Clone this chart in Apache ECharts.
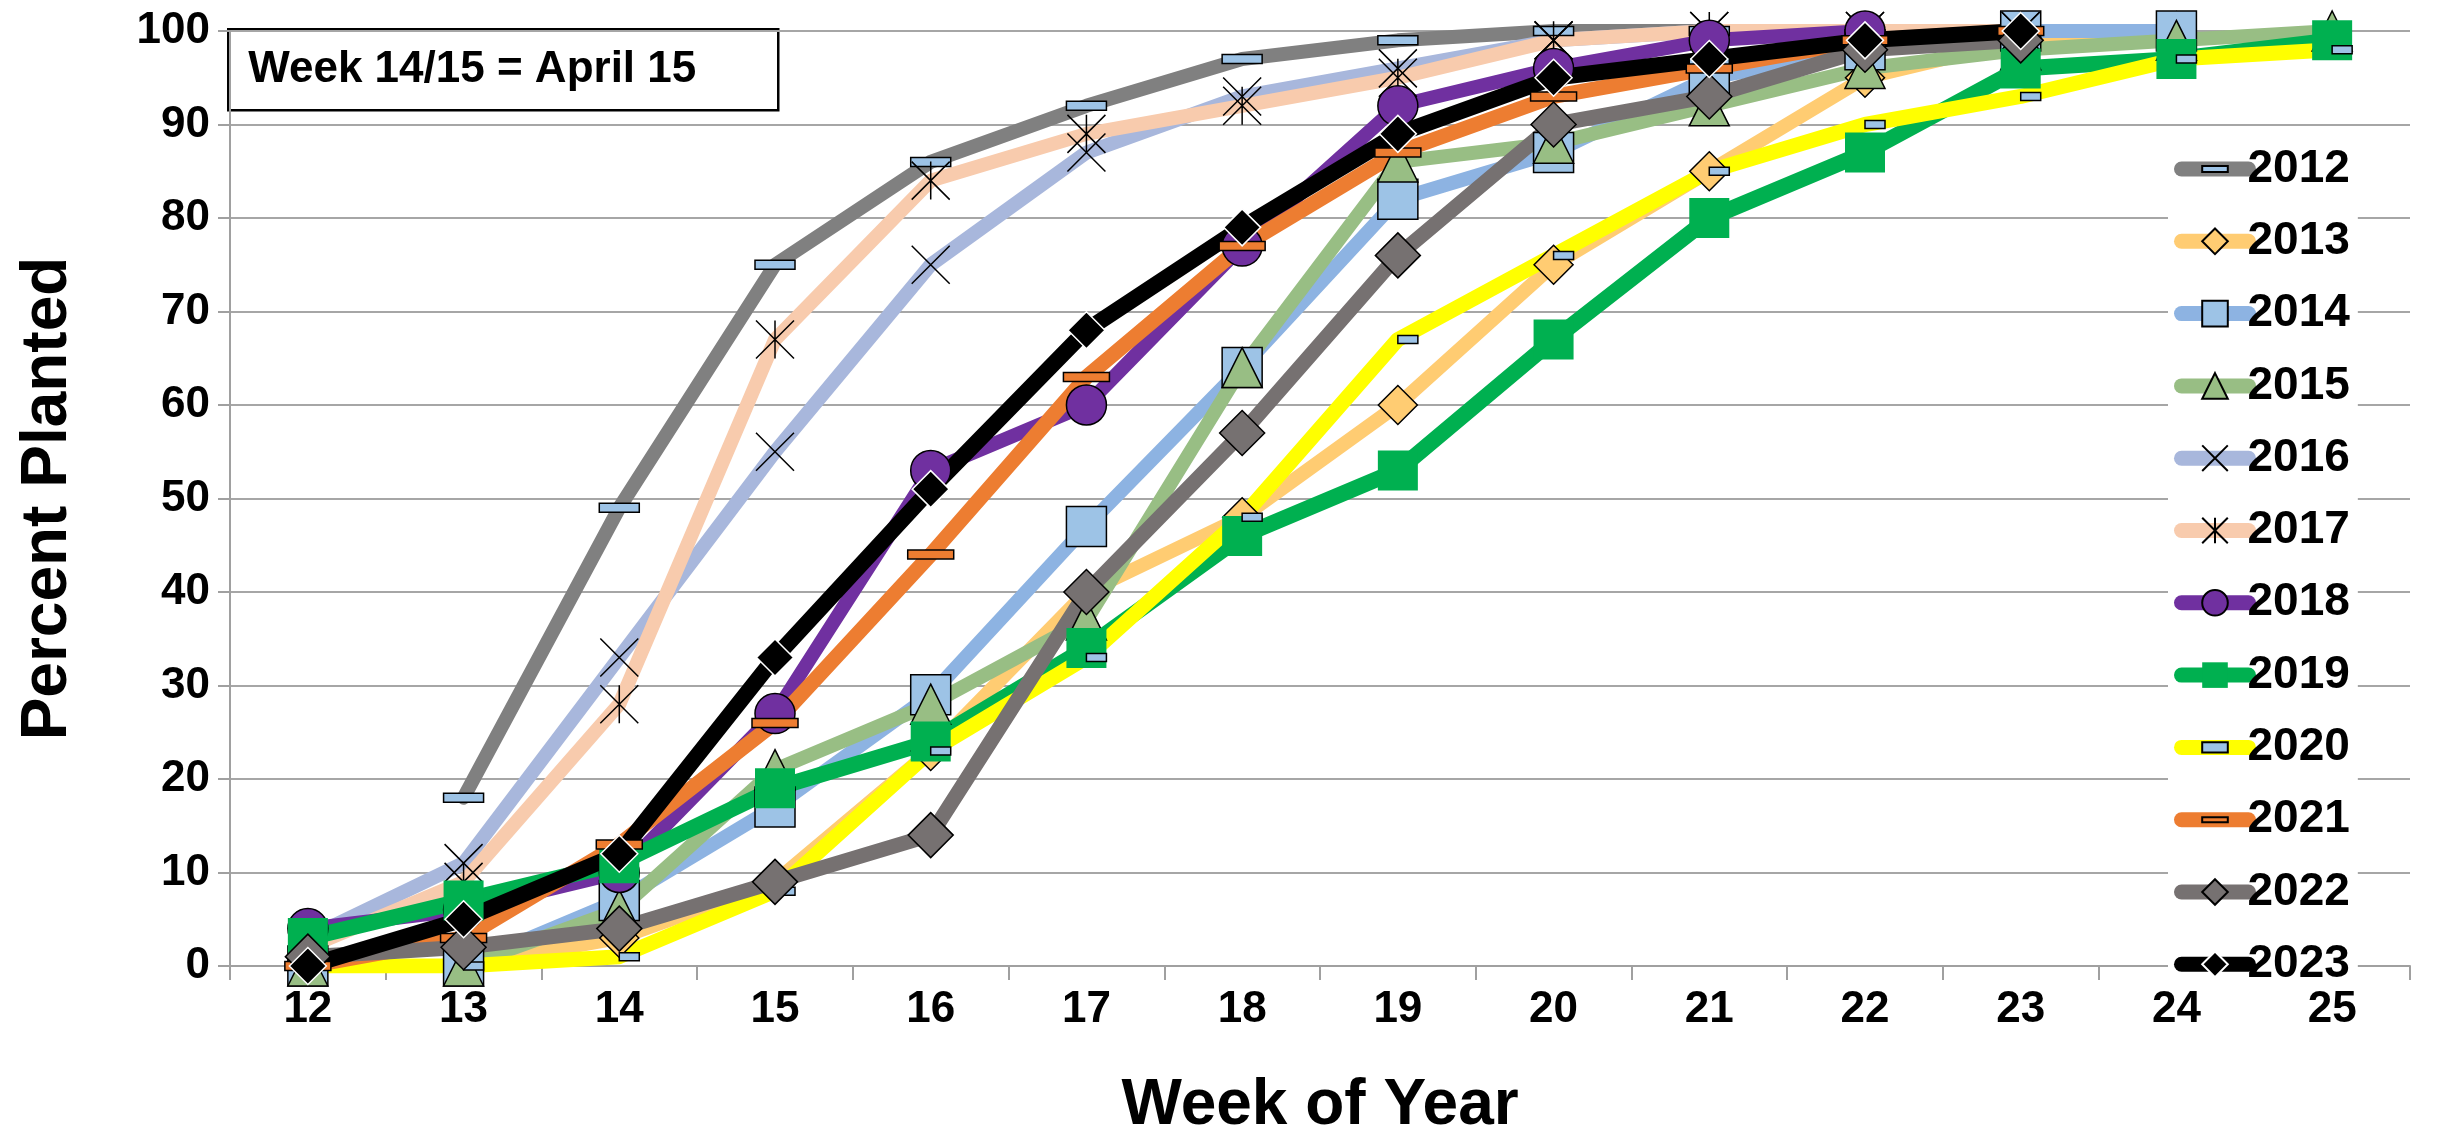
<!DOCTYPE html>
<html>
<head>
<meta charset="utf-8">
<title>Percent Planted</title>
<script src="https://cdn.jsdelivr.net/npm/echarts/dist/echarts.min.js"></script>
<style>
    html, body { margin: 0; padding: 0; background: #fff; }
    #chart { width: 2438px; height: 1131px; }
</style>
</head>
<body>
<div id="chart"></div>
<script>
// 横轴：周
var weeks = ['12', '13', '14', '15', '16', '17', '18', '19', '20', '21', '22', '23', '24', '25'];
var years = ['2012', '2013', '2014', '2015', '2016', '2017', '2018', '2019', '2020', '2021', '2022', '2023'];

// 每年各周的种植百分比（null = 无数据）
var y2012 = [null, 18, 49, 75, 86, 92, 97, 99, 100, 100, null, null, null, null];
var y2013 = [0, 0, 3, 9, 23, 40, 48, 60, 75, 85, 95, 99, 100, null];
var y2014 = [0, 0, 7, 17, 29, 47, 64, 82, 87, 95, 98, 100, 100, null];
var y2015 = [0, 0, 6, 21, 28, 37, 64, 86, 88, 92, 96, 98, 99, 100];
var y2016 = [3, 11, 33, 55, 75, 87, 93, 96, 99, 100, 100, 100, null, null];
var y2017 = [2, 9, 28, 67, 84, 89, 92, 95, 99, 100, 100, 100, null, null];
var y2018 = [4, 6, 10, 27, 53, 60, 77, 92, 96, 99, 100, null, null, null];
var y2019 = [3, 7, 11, 19, 24, 34, 46, 53, 67, 80, 87, 96, 97, 99];
var y2020 = [0, 0, 1, 8, 23, 33, 48, 67, 76, 85, 90, 93, 97, 98];
var y2021 = [0, 3, 13, 26, 44, 63, 77, 87, 93, 96, 99, 100, null, null];
var y2022 = [1, 2, 4, 9, 14, 40, 57, 76, 90, 93, 98, 99, null, null];
var y2023 = [0, 5, 12, 33, 51, 68, 79, 89, 95, 97, 99, 100, null, null];

var yTicks = { min: 0, max: 100, step: 10 };

var FONT = '"Liberation Sans", Arial, sans-serif';

// 扁矩形标记：上下加空白点，让外框成为正方形（图例里不会被拉伸）
var BAR_40 = 'path://M0,-15.5M0,24.5M0,0L40,0L40,9L0,9Z';
var BAR_20 = 'path://M0,-6M0,14M0,0L20,0L20,8L0,8Z';
var BAR_46 = 'path://M0,-18.5M0,27.5M0,0L46,0L46,9L0,9Z';

// 各年的线条与标记样式
var looks = {
    '2012': { line: '#808080', width: 14, symbol: BAR_40, size: [40, 40], fill: '#9DC3E6', border: '#000' },
    '2013': { line: '#FFCC72', width: 14, symbol: 'diamond', size: [39, 39], fill: '#FFCC72', border: '#000' },
    '2014': { line: '#8DB3E2', width: 14, symbol: 'rect', size: [40, 40], fill: '#9DC3E6', border: '#000' },
    '2015': { line: '#98BE84', width: 14, symbol: 'triangle', size: [40, 40], fill: '#98BE84', border: '#000' },
    '2016': { line: '#A8B7DC', width: 14, symbol: 'path://M0,0L10,10M10,0L0,10', size: [38, 38], fill: 'rgba(0,0,0,0)', border: '#000' },
    '2017': { line: '#F8CBAD', width: 14, symbol: 'path://M0,0L10,10M10,0L0,10M5,0L5,10', size: [38, 38], fill: 'rgba(0,0,0,0)', border: '#000' },
    '2018': { line: '#7030A0', width: 14, symbol: 'circle', size: [40, 40], fill: '#7030A0', border: '#000' },
    '2019': { line: '#00B050', width: 16, symbol: 'rect', size: [40, 40], fill: '#00B050', border: null },
    '2020': { line: '#FFFF00', width: 15, symbol: BAR_20, size: [20, 20], fill: '#9DC3E6', border: '#000', offset: [10, 0] },
    '2021': { line: '#ED7D31', width: 15, symbol: BAR_46, size: [46, 46], fill: '#ED7D31', border: '#000' },
    '2022': { line: '#767171', width: 15, symbol: 'diamond', size: [45, 45], fill: '#767171', border: '#000' },
    '2023': { line: '#000000', width: 16, symbol: 'diamond', size: [37, 37], fill: '#000000', border: '#FFFFFF' }
};

var yearData = {
    '2012': y2012, '2013': y2013, '2014': y2014, '2015': y2015,
    '2016': y2016, '2017': y2017, '2018': y2018, '2019': y2019,
    '2020': y2020, '2021': y2021, '2022': y2022, '2023': y2023
};

initChart();

// 组装折线
function buildSeries() {
    var list = [];
    for (var i = 0; i < years.length; i++) {
        var yr = years[i];
        var lk = looks[yr];
        list.push({
            name: yr,
            type: 'line',
            data: yearData[yr],
            connectNulls: false,
            symbol: lk.symbol,
            symbolSize: lk.size,
            symbolKeepAspect: true,
            symbolOffset: lk.offset || [0, 0],
            showAllSymbol: true,
            animation: false,
            lineStyle: { color: lk.line, width: lk.width, cap: 'round', join: 'round' },
            itemStyle: {
                color: lk.fill,
                borderColor: lk.border || lk.fill,
                borderWidth: lk.border ? 1.5 : 0
            },
            emphasis: { disabled: true }
        });
    }
    return list;
}

function initChart() {
    var myChart = echarts.init(document.getElementById('chart'));
    var option = {
        backgroundColor: '#fff',
        animation: false,
        grid: { left: 230, right: 28, top: 31, bottom: 165, outerBoundsMode: 'none', containLabel: false },
        xAxis: {
            type: 'category',
            data: weeks,
            boundaryGap: true,
            name: 'Week of Year',
            nameLocation: 'middle',
            nameGap: 108,
            nameTextStyle: { fontFamily: FONT, fontWeight: 'bold', fontSize: 64, color: '#000' },
            axisLine: { lineStyle: { color: '#A0A0A0', width: 2 } },
            axisTick: { show: true, length: 14, lineStyle: { color: '#A0A0A0', width: 2 } },
            axisLabel: { fontFamily: FONT, fontWeight: 'bold', fontSize: 44, color: '#000', margin: 22 },
            splitLine: { show: false }
        },
        yAxis: {
            type: 'value',
            min: yTicks.min,
            max: yTicks.max,
            interval: yTicks.step,
            name: 'Percent Planted',
            nameLocation: 'middle',
            nameGap: 150,
            nameTextStyle: { fontFamily: FONT, fontWeight: 'bold', fontSize: 64, color: '#000' },
            axisLine: { show: true, lineStyle: { color: '#A0A0A0', width: 2 } },
            axisTick: { show: true, length: 12, lineStyle: { color: '#A0A0A0', width: 2 } },
            axisLabel: { fontFamily: FONT, fontWeight: 'bold', fontSize: 44, color: '#000', margin: 20 },
            splitLine: { show: true, lineStyle: { color: '#A6A6A6', width: 2 } }
        },
        legend: {
            orient: 'vertical',
            left: 2168,
            top: 146,
            data: years,
            itemWidth: 67,
            itemHeight: 32,
            itemGap: 26.3,
            padding: [0, 8, 0, 6],
            backgroundColor: '#fff',
            selectedMode: false,
            lineStyle: { width: 15, cap: 'round' },
            textStyle: { fontFamily: FONT, fontWeight: 'bold', fontSize: 46, color: '#000', lineHeight: 46, padding: [0, 0, 0, -6] }
        },
        graphic: [{
            type: 'group',
            left: 227,
            top: 28,
            children: [{
                type: 'rect',
                shape: { x: 0, y: 0, width: 550, height: 81 },
                style: { fill: '#fff', stroke: '#000', lineWidth: 2.5 }
            }, {
                type: 'text',
                x: 20,
                y: 41,
                style: {
                    text: 'Week 14/15 = April 15',
                    font: 'bold 44px ' + FONT,
                    fill: '#000',
                    verticalAlign: 'middle'
                }
            }]
        }],
        series: buildSeries()
    };
    myChart.setOption(option);
}
</script>
</body>
</html>
